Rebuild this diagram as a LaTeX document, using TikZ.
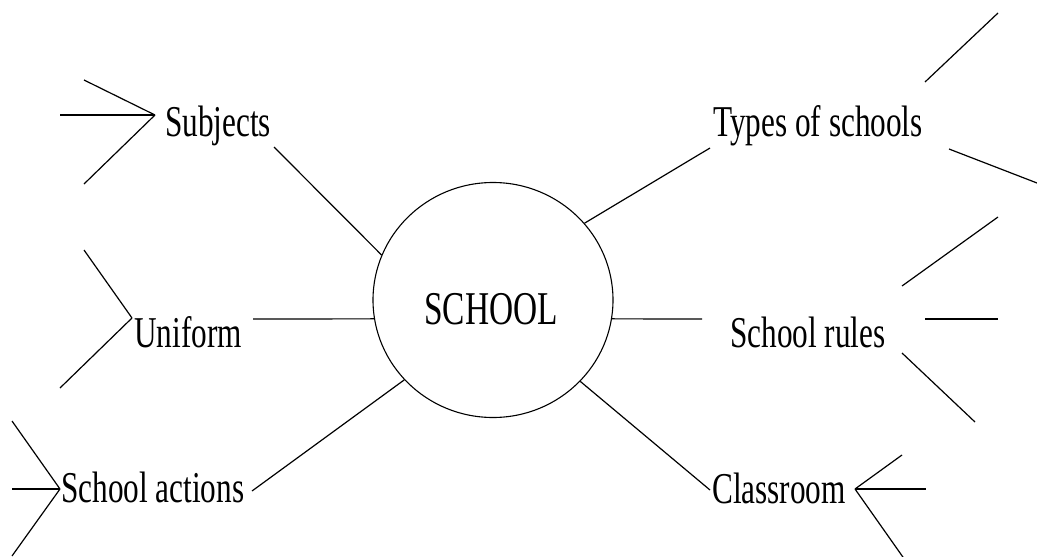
\documentclass[tikz,border=0pt]{standalone}
\usepackage{fontspec}
\setmainfont[FakeStretch=0.71]{Liberation Serif}
\usetikzlibrary{shapes.geometric}

\begin{document}
\begin{tikzpicture}[x=1pt, y=-1pt, every node/.style={font=\fontsize{44}{48}\selectfont, inner sep=0pt}, spoke/.style={line width=1.2pt}]

    \useasboundingbox (0,0) rectangle (1037,557);

    % SCHOOL in the middle
    \node[ellipse, draw, line width=1.1pt, minimum width=240pt, minimum height=235pt] (school) at (493,300) {};
    \node[anchor=base west, font=\fontsize{47}{50}\selectfont] (schoolname) at (424,324) {SCHOOL};

    % Subjects
    \node[anchor=base west] (subjects) at (165,136) {Subjects};
    \coordinate (subjects end) at (274,147);
    \coordinate (subjects hub) at (155,115);
    \coordinate (subjects a) at (84,80);
    \coordinate (subjects b) at (60,115);
    \coordinate (subjects c) at (84,184);
    \draw[spoke] (school.158) -- (subjects end);
    \draw[spoke] (subjects hub) -- (subjects a);
    \draw[spoke] (subjects hub) -- (subjects b);
    \draw[spoke] (subjects hub) -- (subjects c);

    % Uniform
    \node[anchor=base west] (uniform) at (134,347) {Uniform};
    \coordinate (uniform end) at (253,319);
    \coordinate (uniform hub) at (132,318);
    \coordinate (uniform a) at (84,250);
    \coordinate (uniform c) at (60,388);
    \draw[spoke] (school.189) -- (uniform end);
    \draw[spoke] (uniform hub) -- (uniform a);
    \draw[spoke] (uniform hub) -- (uniform c);

    % School actions
    \node[anchor=base west] (actions) at (61,502) {School actions};
    \coordinate (actions end) at (252,491);
    \coordinate (actions hub) at (60,489);
    \coordinate (actions a) at (12,421);
    \coordinate (actions b) at (12,489);
    \coordinate (actions c) at (12,556);
    \draw[spoke] (school.222.5) -- (actions end);
    \draw[spoke] (actions hub) -- (actions a);
    \draw[spoke] (actions hub) -- (actions b);
    \draw[spoke] (actions hub) -- (actions c);

    % Types of schools
    \node[anchor=base west] (types) at (713,136) {Types of schools};
    \coordinate (types end) at (710,148);
    \coordinate (types a1) at (925,82);
    \coordinate (types a2) at (998,13);
    \coordinate (types c1) at (949,149);
    \coordinate (types c2) at (1037,183);
    \draw[spoke] (school.40.5) -- (types end);
    \draw[spoke] (types a1) -- (types a2);
    \draw[spoke] (types c1) -- (types c2);

    % School rules
    \node[anchor=base west] (rules) at (730,347) {School rules};
    \coordinate (rules end) at (702,319);
    \coordinate (rules a1) at (902,286);
    \coordinate (rules a2) at (998,217);
    \coordinate (rules b1) at (925,319);
    \coordinate (rules b2) at (998,319);
    \coordinate (rules c1) at (902,353);
    \coordinate (rules c2) at (975,422);
    \draw[spoke] (school.351) -- (rules end);
    \draw[spoke] (rules a1) -- (rules a2);
    \draw[spoke] (rules b1) -- (rules b2);
    \draw[spoke] (rules c1) -- (rules c2);

    % Classroom
    \node[anchor=base west] (classroom) at (712,503) {Classroom};
    \coordinate (classroom end) at (710,490);
    \coordinate (classroom hub) at (855,489);
    \coordinate (classroom a) at (902,455);
    \coordinate (classroom b) at (926,489);
    \coordinate (classroom c) at (905,560);
    \draw[spoke] (school.317.5) -- (classroom end);
    \draw[spoke] (classroom hub) -- (classroom a);
    \draw[spoke] (classroom hub) -- (classroom b);
    \draw[spoke] (classroom hub) -- (classroom c);

\end{tikzpicture}
\end{document}
